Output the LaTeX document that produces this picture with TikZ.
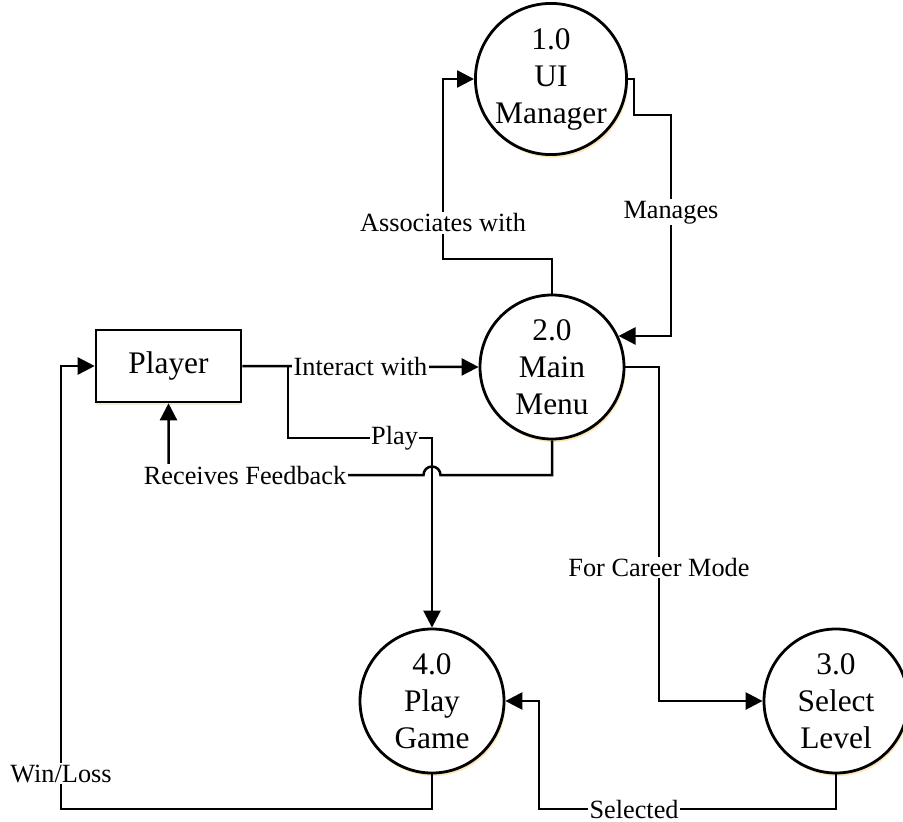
\documentclass[tikz,border=0pt]{standalone}
\usepackage{fontspec}
\setmainfont{Liberation Serif}
\usetikzlibrary{arrows.meta,shadows}
\definecolor{glow}{RGB}{250,226,170}
\definecolor{boxglow}{RGB}{222,238,208}
\tikzset{
  proc/.style={circle,draw,line width=2.8pt,fill=white,minimum size=144pt,inner sep=0pt,
    align=center,font=\fontsize{31.4}{37}\selectfont,
    drop shadow={shadow xshift=1.5pt,shadow yshift=-3pt,fill=glow,opacity=0.85}},
  entity/.style={rectangle,draw,line width=2.6pt,fill=white,minimum width=145pt,
    minimum height=72pt,font=\fontsize{31.4}{37}\selectfont,
    drop shadow={shadow xshift=0pt,shadow yshift=-3pt,fill=boxglow,opacity=0.8}},
  flow/.style={line width=2.5pt,-{Triangle[length=17pt,width=17pt]}},
  lbl/.style={fill=white,inner sep=1.5pt,font=\fontsize{26.3}{30}\selectfont}
}
\begin{document}
\begin{tikzpicture}[x=1pt,y=1pt]
\useasboundingbox (0,0) rectangle (903,-822);

% processes and the external entity
\node[proc]   (ui) at (551,-79)  {1.0\\UI\\Manager};
\node[proc]   (mm) at (552,-367) {2.0\\Main\\Menu};
\node[proc]   (pg) at (432,-701) {4.0\\Play\\Game};
\node[proc]   (sl) at (836,-701) {3.0\\Select\\Level};
\node[entity] (pl) at (168.5,-366) {Player};

% bend points of the data flows
\coordinate (asc)     at (443,-259);
\coordinate (mg1)     at (634,-115);
\coordinate (mg2)     at (671,-115);
\coordinate (split)   at (288,-366);
\coordinate (playrow) at (0,-438);
\coordinate (hopR)    at (440.5,-475);
\coordinate (cm)      at (659,-367);
\coordinate (selrow)  at (0,-809);
\coordinate (selcol)  at (539,0);
\coordinate (wlcol)   at (61,0);

% data flows
\draw[flow] (mm.north) |- (asc) -- node[lbl,pos=0.2]{Associates with} (asc |- ui.west) -- (ui.west);
\draw[flow] (ui.east) -| (mg1) -- (mg2) -- node[lbl,pos=0.44]{Manages} (mg2 |- mm.25) -- (mm.25);
\draw[flow] (pl.east) -- node[lbl]{Interact with} (mm.west);
\draw[flow] (split) |- node[lbl,pos=0.87]{Play} (pg.north |- playrow) -- (pg.north);
\draw[flow] (mm.south) |- (hopR) arc[start angle=0,end angle=180,radius=8.5]
  -- node[lbl,pos=0.70]{Receives Feedback} (pl.south |- hopR) -- (pl.south);
\draw[flow] (mm.east) -- (cm) -- node[lbl,pos=0.6]{For Career Mode} (cm |- sl.west) -- (sl.west);
\draw[flow] (sl.south) -- (sl.south |- selrow) -- node[lbl,pos=0.68]{Selected} (selcol |- selrow)
  -- (selcol |- pg.east) -- (pg.east);
\draw[flow] (pg.south) -- (pg.south |- selrow) -- (wlcol |- selrow)
  -- node[lbl,pos=0.08]{Win/Loss} (wlcol |- pl.west) -- (pl.west);
\end{tikzpicture}
\end{document}
